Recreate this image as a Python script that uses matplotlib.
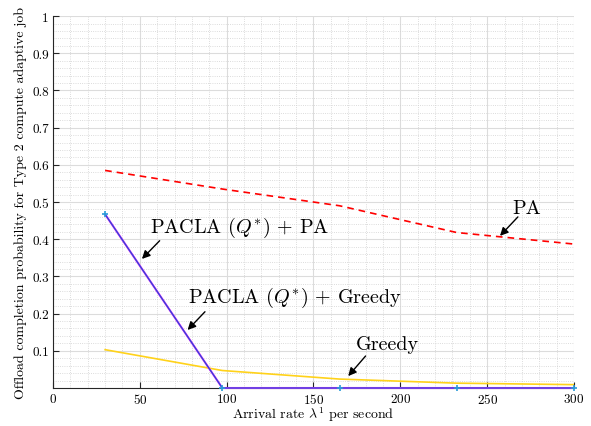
import matplotlib
matplotlib.use("Agg")
import matplotlib.pyplot as plt
from matplotlib.ticker import MultipleLocator

plt.rcParams["font.family"] = ["cmr10"]
plt.rcParams["mathtext.fontset"] = "cm"
plt.rcParams["axes.formatter.use_mathtext"] = True

# arrival rates
lam = [30, 97.5, 165, 232.5, 300]
# offload completion probability per scheme
pa = [0.585, 0.535, 0.490, 0.418, 0.387]
greedy = [0.103, 0.047, 0.024, 0.013, 0.009]
pacla_pa = [0.467, 0.0, 0.0, 0.0, 0.0]
pacla_greedy = [0.467, 0.0, 0.0, 0.0, 0.0]

fig = plt.figure(figsize=(5.91, 4.27), dpi=100)
ax = fig.add_axes([0.0897, 0.089, 0.8815, 0.871])

ax.plot(lam, pa, color="red", linestyle="--", linewidth=1.2, dashes=(4, 3))
ax.plot(lam, greedy, color="#ffd21a", linewidth=1.2)
ax.plot(lam, pacla_pa, color="#ff33ff", linewidth=1.5, zorder=3, clip_on=False)
ax.plot(lam, pacla_greedy, color="#3346d8", linewidth=1.0, marker="+",
        markersize=4, markeredgecolor="#2a9ad8", markeredgewidth=1.2,
        zorder=4, clip_on=False)

ax.set_xlim(0, 300)
ax.set_ylim(0, 1)
ax.set_xticks([0, 50, 100, 150, 200, 250, 300])
ax.set_yticks([0.1, 0.2, 0.3, 0.4, 0.5, 0.6, 0.7, 0.8, 0.9, 1])
ax.set_yticklabels(["0.1", "0.2", "0.3", "0.4", "0.5", "0.6", "0.7", "0.8", "0.9", "1"])
ax.xaxis.set_minor_locator(MultipleLocator(10))
ax.yaxis.set_minor_locator(MultipleLocator(0.02))
ax.grid(which="major", color="#dcdcdc", linewidth=0.8)
ax.grid(which="minor", color="#d0d0d0", linestyle=":", linewidth=0.6)
ax.set_axisbelow(True)
ax.tick_params(which="major", direction="in", length=4, labelsize=9.5, color="#262626", pad=3)
ax.tick_params(which="minor", length=0)
for s in ["top", "right"]:
    ax.spines[s].set_visible(False)
for s in ["left", "bottom"]:
    ax.spines[s].set_color("#262626")
    ax.spines[s].set_linewidth(0.8)

ax.set_xlabel(r"Arrival rate $\lambda^1$ per second", fontsize=10, labelpad=-1)
ax.set_ylabel("Offload completion probability for Type 2 compute adaptive job", fontsize=10, labelpad=4)

# annotations: label text and arrow (head, tail) given separately
arrow = dict(arrowstyle="-|>", color="black", lw=1.0, mutation_scale=12, shrinkA=0, shrinkB=0)
labels = [r"PACLA ($Q^{*}$) + PA", r"PACLA ($Q^{*}$) + Greedy", "PA", "Greedy"]
label_pos = [(107.7, 0.433), (139.3, 0.245), (273, 0.484), (192.3, 0.118)]
arrow_head = [(51.2, 0.347), (77.5, 0.156), (257.4, 0.409), (170, 0.032)]
arrow_tail = [(61.4, 0.396), (87.5, 0.205), (267.7, 0.46), (180, 0.086)]
for txt, pos, head, tail in zip(labels, label_pos, arrow_head, arrow_tail):
    ax.text(pos[0], pos[1], txt, fontsize=14.5, ha="center", va="center")
    ax.annotate("", xy=head, xytext=tail, arrowprops=arrow)

fig.savefig("out.png", dpi=100)
